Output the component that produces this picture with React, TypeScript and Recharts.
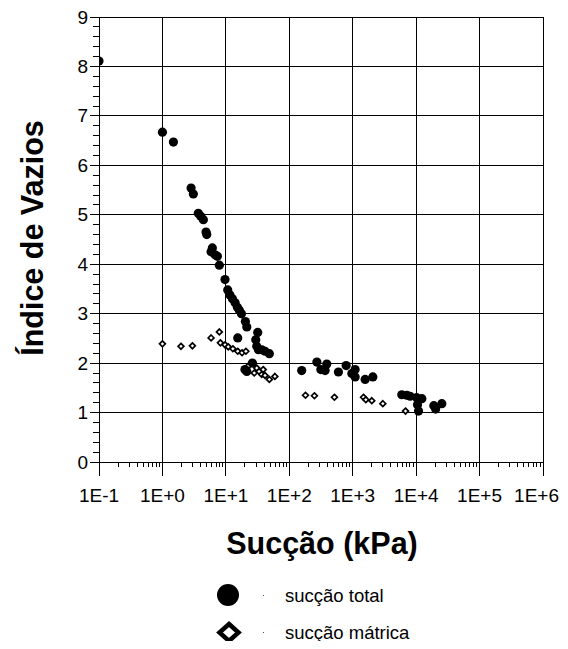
import React from "react";
import { ScatterChart, Scatter, XAxis, YAxis, CartesianGrid } from "recharts";

// ---- data ----
const TOTAL_SUCTION: [number, number][] = [
  [0.1, 8.11], [1.0, 6.67], [1.49, 6.47], [2.83, 5.54], [3.07, 5.42],
  [3.68, 5.03], [4.02, 4.97], [4.42, 4.9], [4.87, 4.65], [5.0, 4.6],
  [5.85, 4.25], [6.12, 4.33], [6.76, 4.19], [7.35, 4.16], [7.9, 3.98],
  [9.7, 3.69], [10.7, 3.48], [11.6, 3.38], [12.7, 3.3], [14.0, 3.22],
  [15.2, 3.13], [16.3, 3.07], [17.6, 3.0], [20.3, 2.84], [21.4, 2.73],
  [15.4, 2.51], [31.8, 2.62], [29.6, 2.47], [30.7, 2.34], [32.6, 2.27],
  [36.8, 2.27], [41.5, 2.24], [48.5, 2.19], [20.0, 1.87], [21.4, 1.83],
  [26.2, 2.0], [157, 1.85], [272, 2.02], [314, 1.87], [367, 1.85],
  [390, 1.98], [595, 1.82], [788, 1.95], [968, 1.79], [1092, 1.87],
  [1092, 1.72], [1570, 1.67], [2075, 1.72], [5940, 1.36], [7120, 1.35],
  [8040, 1.33], [10200, 1.3], [12300, 1.28], [10500, 1.16], [10900, 1.03],
  [19000, 1.14], [20300, 1.07], [25400, 1.18],
];

const MATRIC_SUCTION: [number, number][] = [
  [1.0, 2.39], [1.96, 2.34], [2.97, 2.35], [5.85, 2.51], [7.9, 2.63],
  [8.2, 2.41], [9.7, 2.37], [10.9, 2.33], [12.9, 2.29], [15.4, 2.24],
  [18, 2.21], [20.7, 2.24], [22.6, 1.94], [27, 2.0], [28, 1.8],
  [30.7, 1.9], [33.5, 1.83], [36.8, 1.77], [38.8, 1.87], [41.5, 1.75],
  [48.5, 1.67], [59.3, 1.73], [180, 1.35], [249, 1.34], [515, 1.31],
  [1480, 1.31], [1610, 1.26], [2000, 1.24], [2985, 1.18], [6800, 1.03],
];

const X_MAJOR = [0.1, 1, 10, 100, 1000, 10000, 100000, 1000000];
const X_LABELS = ["1E-1", "1E+0", "1E+1", "1E+2", "1E+3", "1E+4", "1E+5", "1E+6"];
const Y_MAJOR = [0, 1, 2, 3, 4, 5, 6, 7, 8, 9];
const Y_MINOR_STEPS = [0.2, 0.4, 0.6, 0.8];
const X_MINOR_MULT = [2, 3, 4, 5, 6, 7, 8, 9];

const SERIES_NAMES = ["sucção total", "sucção mátrica"];
const X_TITLE = "Sucção (kPa)";
const Y_TITLE = "Índice de Vazios";

// ---- derived tick sets ----
const X_TICKS: number[] = [];
X_MAJOR.forEach((m, i) => {
  X_TICKS.push(m);
  if (i < X_MAJOR.length - 1) X_MINOR_MULT.forEach((k) => X_TICKS.push(m * k));
});
const Y_TICKS: number[] = [];
Y_MAJOR.forEach((m, i) => {
  Y_TICKS.push(m);
  if (i < Y_MAJOR.length - 1) Y_MINOR_STEPS.forEach((s) => Y_TICKS.push(Math.round((m + s) * 10) / 10));
});

const totalData = TOTAL_SUCTION.map(([x, y]) => ({ x, y }));
const matricData = MATRIC_SUCTION.map(([x, y]) => ({ x, y }));

const FONT = "'Liberation Sans', Arial, Helvetica, sans-serif";

const majorIndexX = (v: number) => X_MAJOR.findIndex((m) => Math.abs(m - v) / m < 1e-6);

const XTick = (props: any) => {
  const { x, y, payload } = props;
  const v = payload.value;
  const idx = majorIndexX(v);
  if (idx >= 0) {
    const last = idx === X_MAJOR.length - 1;
    return (
      <g>
        <line x1={x} y1={y} x2={x} y2={y + 14} stroke="#000" strokeWidth={1} shapeRendering="crispEdges" />
        <text
          x={last ? x + 16 : x}
          y={y + 33}
          textAnchor={last ? "end" : "middle"}
          dominantBaseline="central"
          fontFamily={FONT}
          fontSize={19}
          fill="#000"
        >
          {X_LABELS[idx]}
        </text>
      </g>
    );
  }
  return <line x1={x} y1={y} x2={x} y2={y + 5} stroke="#000" strokeWidth={1} shapeRendering="crispEdges" />;
};

const YTick = (props: any) => {
  const { x, y, payload } = props;
  const v = payload.value;
  const major = Math.abs(v - Math.round(v)) < 1e-6;
  if (major) {
    return (
      <g>
        <line x1={x - 9} y1={y} x2={x} y2={y} stroke="#000" strokeWidth={1} shapeRendering="crispEdges" />
        <text x={x - 11} y={y} textAnchor="end" dominantBaseline="central" fontFamily={FONT} fontSize={19} fill="#000">
          {String(Math.round(v))}
        </text>
      </g>
    );
  }
  return <line x1={x - 6} y1={y} x2={x} y2={y} stroke="#000" strokeWidth={1} shapeRendering="crispEdges" />;
};

const GridLine = (props: any) => {
  const { x1, y1, x2, y2 } = props;
  return <line x1={x1} y1={y1} x2={x2} y2={y2} stroke="#000" strokeWidth={1} shapeRendering="crispEdges" />;
};

const Dot = (props: any) => {
  const { cx, cy } = props;
  if (cx == null || cy == null) return null;
  return <circle cx={cx} cy={cy} r={4.6} fill="#000" />;
};

const Diamond = (props: any) => {
  const { cx, cy } = props;
  if (cx == null || cy == null) return null;
  const h = 2.9;
  return (
    <polygon
      points={`${cx},${cy - h} ${cx + h},${cy} ${cx},${cy + h} ${cx - h},${cy}`}
      fill="#fff"
      stroke="#000"
      strokeWidth={1.7}
    />
  );
};

export default function App() {
  const W = 560;
  const H = 633;
  return (
    <div style={{ position: "relative", width: W, height: H, overflow: "visible" }}>
      <style>{`html { overflow: hidden; } .recharts-cartesian-axis-line { shape-rendering: crispEdges; } svg.recharts-surface { overflow: visible !important; } .recharts-wrapper { overflow: visible !important; }`}</style>
      <ScatterChart width={W} height={H} margin={{ top: 9, right: 25, left: 31, bottom: 139 }} style={{ overflow: "visible" }}>
        <CartesianGrid
          verticalValues={X_MAJOR}
          horizontalValues={Y_MAJOR}
          horizontal={GridLine}
          vertical={GridLine}
        />
        <XAxis
          dataKey="x"
          type="number"
          scale="log"
          domain={[0.1, 1000000]}
          ticks={X_TICKS}
          interval={0}
          tick={<XTick />}
          tickLine={false}
          tickSize={0}
          tickMargin={0}
          axisLine={{ stroke: "#000" }}
          allowDataOverflow
          height={40}
        />
        <YAxis
          dataKey="y"
          type="number"
          domain={[0, 9]}
          ticks={Y_TICKS}
          interval={0}
          tick={<YTick />}
          tickLine={false}
          tickSize={0}
          tickMargin={0}
          axisLine={{ stroke: "#000" }}
          allowDataOverflow
          width={60}
        />
        <Scatter name={SERIES_NAMES[1]} data={matricData} shape={<Diamond />} isAnimationActive={false} />
        <Scatter name={SERIES_NAMES[0]} data={totalData} shape={<Dot />} isAnimationActive={false} />
      </ScatterChart>
      <svg width={W} height={H} style={{ position: "absolute", left: 0, top: 0, pointerEvents: "none", overflow: "visible" }}>
        <text x={314} y={535} textAnchor="middle" dominantBaseline="central" fontFamily={FONT} fontWeight="bold" fontSize={30.5} fill="#000">
          {X_TITLE}
        </text>
        <text
          x={24}
          y={230}
          textAnchor="middle"
          dominantBaseline="central"
          fontFamily={FONT}
          fontWeight="bold"
          fontSize={30.5}
          fill="#000"
          transform="rotate(-90 24 230)"
        >
          {Y_TITLE}
        </text>
        <circle cx={220} cy={587} r={11} fill="#000" />
        <rect x={255} y={587} width={1} height={1} fill="#555" />
        <text x={277} y={587} dominantBaseline="central" fontFamily={FONT} fontSize={18.5} fill="#000">
          {SERIES_NAMES[0]}
        </text>
        <polygon points="221,616 230.5,624.5 221,633 211.5,624.5" fill="#fff" stroke="#000" strokeWidth={4.5} />
        <rect x={255} y={624} width={1} height={1} fill="#555" />
        <text x={277} y={624} dominantBaseline="central" fontFamily={FONT} fontSize={18.5} fill="#000">
          {SERIES_NAMES[1]}
        </text>
      </svg>
    </div>
  );
}
